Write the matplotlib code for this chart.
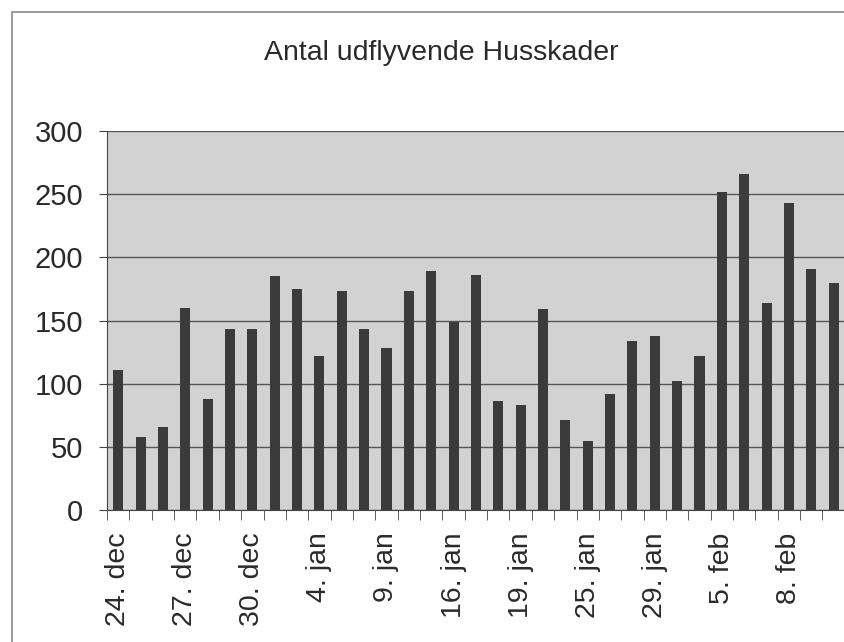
import matplotlib
matplotlib.use("Agg")
import matplotlib.pyplot as plt
from matplotlib.patches import Rectangle
from matplotlib.ticker import FixedLocator, NullFormatter

plt.rcParams['font.family'] = ['Liberation Sans', 'DejaVu Sans']

# dates (only every third one is printed on the axis)
dates = ["24. dec", "25. dec", "26. dec", "27. dec", "28. dec", "29. dec",
         "30. dec", "31. dec", "2. jan", "4. jan", "5. jan", "7. jan",
         "9. jan", "11. jan", "14. jan", "16. jan", "17. jan", "18. jan",
         "19. jan", "21. jan", "23. jan", "25. jan", "26. jan", "27. jan",
         "29. jan", "1. feb", "3. feb", "5. feb", "6. feb", "7. feb",
         "8. feb", "9. feb", "10. feb"]
birds = [111, 58, 66, 160, 88, 143, 143, 185, 175, 122, 173, 143,
         128, 173, 189, 149, 186, 86, 83, 159, 71, 55, 92, 134,
         138, 102, 122, 252, 266, 164, 243, 191, 180]
yticks = [0, 50, 100, 150, 200, 250, 300]

W, H = 844, 642
fig = plt.figure(figsize=(W / 100, H / 100), dpi=100)
fig.patch.set_facecolor("white")

# chart area border (cropped on the right and bottom)
fig.patches.append(Rectangle((12 / W, -0.05), 1.0, 1 - 12 / H + 0.05,
                             transform=fig.transFigure, fill=False,
                             edgecolor="#8a8a8a", linewidth=1.2))

ax = fig.add_axes([107 / W, 1 - 510 / H, (W - 107) / W + 0.001, 379 / H])
ax.set_facecolor("#d2d2d2")

x = list(range(len(birds)))
ax.bar(x, birds, width=0.45, color="#3b3b3b", zorder=3)

ax.set_ylim(0, 300)
ax.set_xlim(-0.5, len(birds) - 0.5)
ax.set_yticks(yticks)
ax.set_yticklabels([str(v) for v in yticks], fontsize=21, color="#2a2a2a")
ax.yaxis.grid(True, color="#555555", linewidth=1.0, zorder=1)

shown = x[::3]
ax.set_xticks(shown)
ax.set_xticklabels([dates[i] for i in shown], rotation=90, fontsize=20.5,
                   color="#2a2a2a")
ax.tick_params(axis="x", which="major", length=0, pad=16)
ax.xaxis.set_minor_locator(FixedLocator([i - 0.5 for i in range(len(birds) + 1)]))
ax.xaxis.set_minor_formatter(NullFormatter())
ax.tick_params(axis="x", which="minor", length=7, color="#444444")
ax.tick_params(axis="y", length=6, color="#444444", pad=11)

for side in ["right", "top"]:
    ax.spines[side].set_visible(False)
ax.spines["left"].set_color("#444444")
ax.spines["bottom"].set_color("#444444")

fig.text(441 / W, 1 - 60 / H, "Antal udflyvende Husskader", ha="center",
         va="baseline", fontsize=20.5, color="#2a2a2a")

fig.savefig("out.png", dpi=100)
